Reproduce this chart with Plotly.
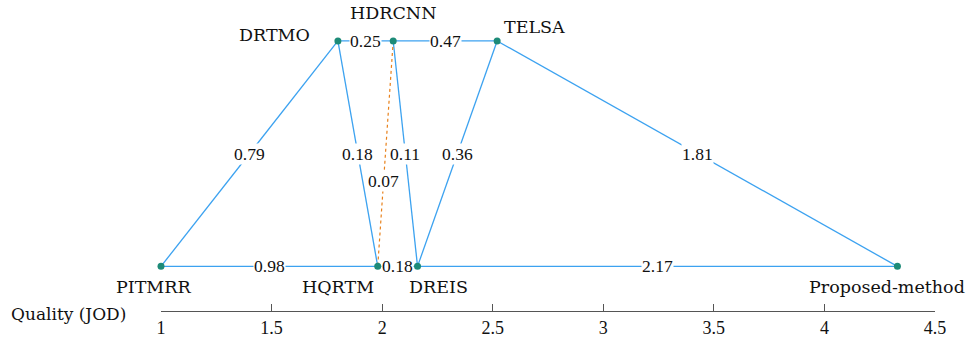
import plotly.graph_objects as go

# ---- data ----
methods = ["PITMRR", "DRTMO", "HDRCNN", "TELSA", "HQRTM", "DREIS", "Proposed-method"]
quality = [1.0, 1.80, 2.05, 2.52, 1.98, 2.16, 4.33]
row = [0, 1, 1, 1, 0, 0, 0]  # 1 = top row, 0 = bottom row

edge_from = ["PITMRR", "PITMRR", "DRTMO", "DRTMO", "HDRCNN", "HDRCNN", "TELSA", "TELSA", "HQRTM", "DREIS", "HDRCNN"]
edge_to = ["HQRTM", "DRTMO", "HDRCNN", "HQRTM", "TELSA", "DREIS", "DREIS", "Proposed-method", "DREIS", "Proposed-method", "HQRTM"]
edge_label = ["0.98", "0.79", "0.25", "0.18", "0.47", "0.11", "0.36", "1.81", "0.18", "2.17", "0.07"]
edge_dashed = [False, False, False, False, False, False, False, False, False, False, True]

tick_vals = [1, 1.5, 2, 2.5, 3, 3.5, 4, 4.5]
tick_text = ["1", "1.5", "2", "2.5", "3", "3.5", "4", "4.5"]

# ---- styling ----
label_offsets = {  # (xshift, yshift, xanchor)
    "PITMRR": (-8, -21, "center"),
    "DRTMO": (-26, 6, "right"),
    "HDRCNN": (0, 28, "center"),
    "TELSA": (37, 14, "center"),
    "HQRTM": (-2, -21, "right"),
    "DREIS": (21, -21, "center"),
    "Proposed-method": (-10, -21, "center"),
}
dashed_pos = 0.62  # fraction along dashed edge from its first node

blue = "#3ca2f0"
orange = "#e8801a"
teal = "#1d8b78"
node_font = dict(family="DejaVu Serif", size=17.5, color="#111111")
axis_title_font = dict(family="DejaVu Serif", size=17, color="#111111")
num_font = dict(family="Liberation Serif", size=17.5, color="#111111")

pos = {m: (q, r) for m, q, r in zip(methods, quality, row)}

fig = go.Figure()
for a, b, lab, d in zip(edge_from, edge_to, edge_label, edge_dashed):
    xa, ya = pos[a]
    xb, yb = pos[b]
    fig.add_trace(go.Scatter(
        x=[xa, xb], y=[ya, yb], mode="lines",
        line=dict(color=orange if d else blue, width=1.2 if d else 1.3, dash="dot" if d else "solid"),
        hoverinfo="skip", showlegend=False))
    t = dashed_pos if d else 0.5
    fig.add_annotation(x=xa + (xb - xa) * t, y=ya + (yb - ya) * t, text=lab,
                       showarrow=False, font=num_font, bgcolor="white", borderpad=0)

fig.add_trace(go.Scatter(
    x=quality, y=row, mode="markers",
    marker=dict(color=teal, size=7), hoverinfo="skip", showlegend=False, cliponaxis=False))

for m, q, r in zip(methods, quality, row):
    xs, ys, xa = label_offsets[m]
    fig.add_annotation(x=q, y=r, text=m, showarrow=False, font=node_font,
                       xshift=xs, yshift=ys, xanchor=xa)

fig.add_annotation(xref="x", yref="paper", x=1, y=0, xshift=-33, yshift=-3,
                   xanchor="right", yanchor="middle",
                   text="Quality (JOD)", showarrow=False, font=axis_title_font)

fig.update_layout(
    width=969, height=350,
    margin=dict(l=161, r=34, t=20, b=24),
    plot_bgcolor="white", paper_bgcolor="white",
    xaxis=dict(range=[1, 4.5], tickvals=tick_vals, ticktext=tick_text, showgrid=False, zeroline=False,
               showline=True, linecolor="#555555", linewidth=1, ticks="inside", ticklen=7,
               tickcolor="#555555", tickfont=dict(family="Liberation Serif", size=18, color="#111111")),
    yaxis=dict(range=[-0.198, 1.093], visible=False),
)

# remove the default 8px page margin so the figure sits at the window's top-left corner
fig.write_html("out.html", config={"displayModeBar": False},
               post_script="document.body.style.margin='0';")
